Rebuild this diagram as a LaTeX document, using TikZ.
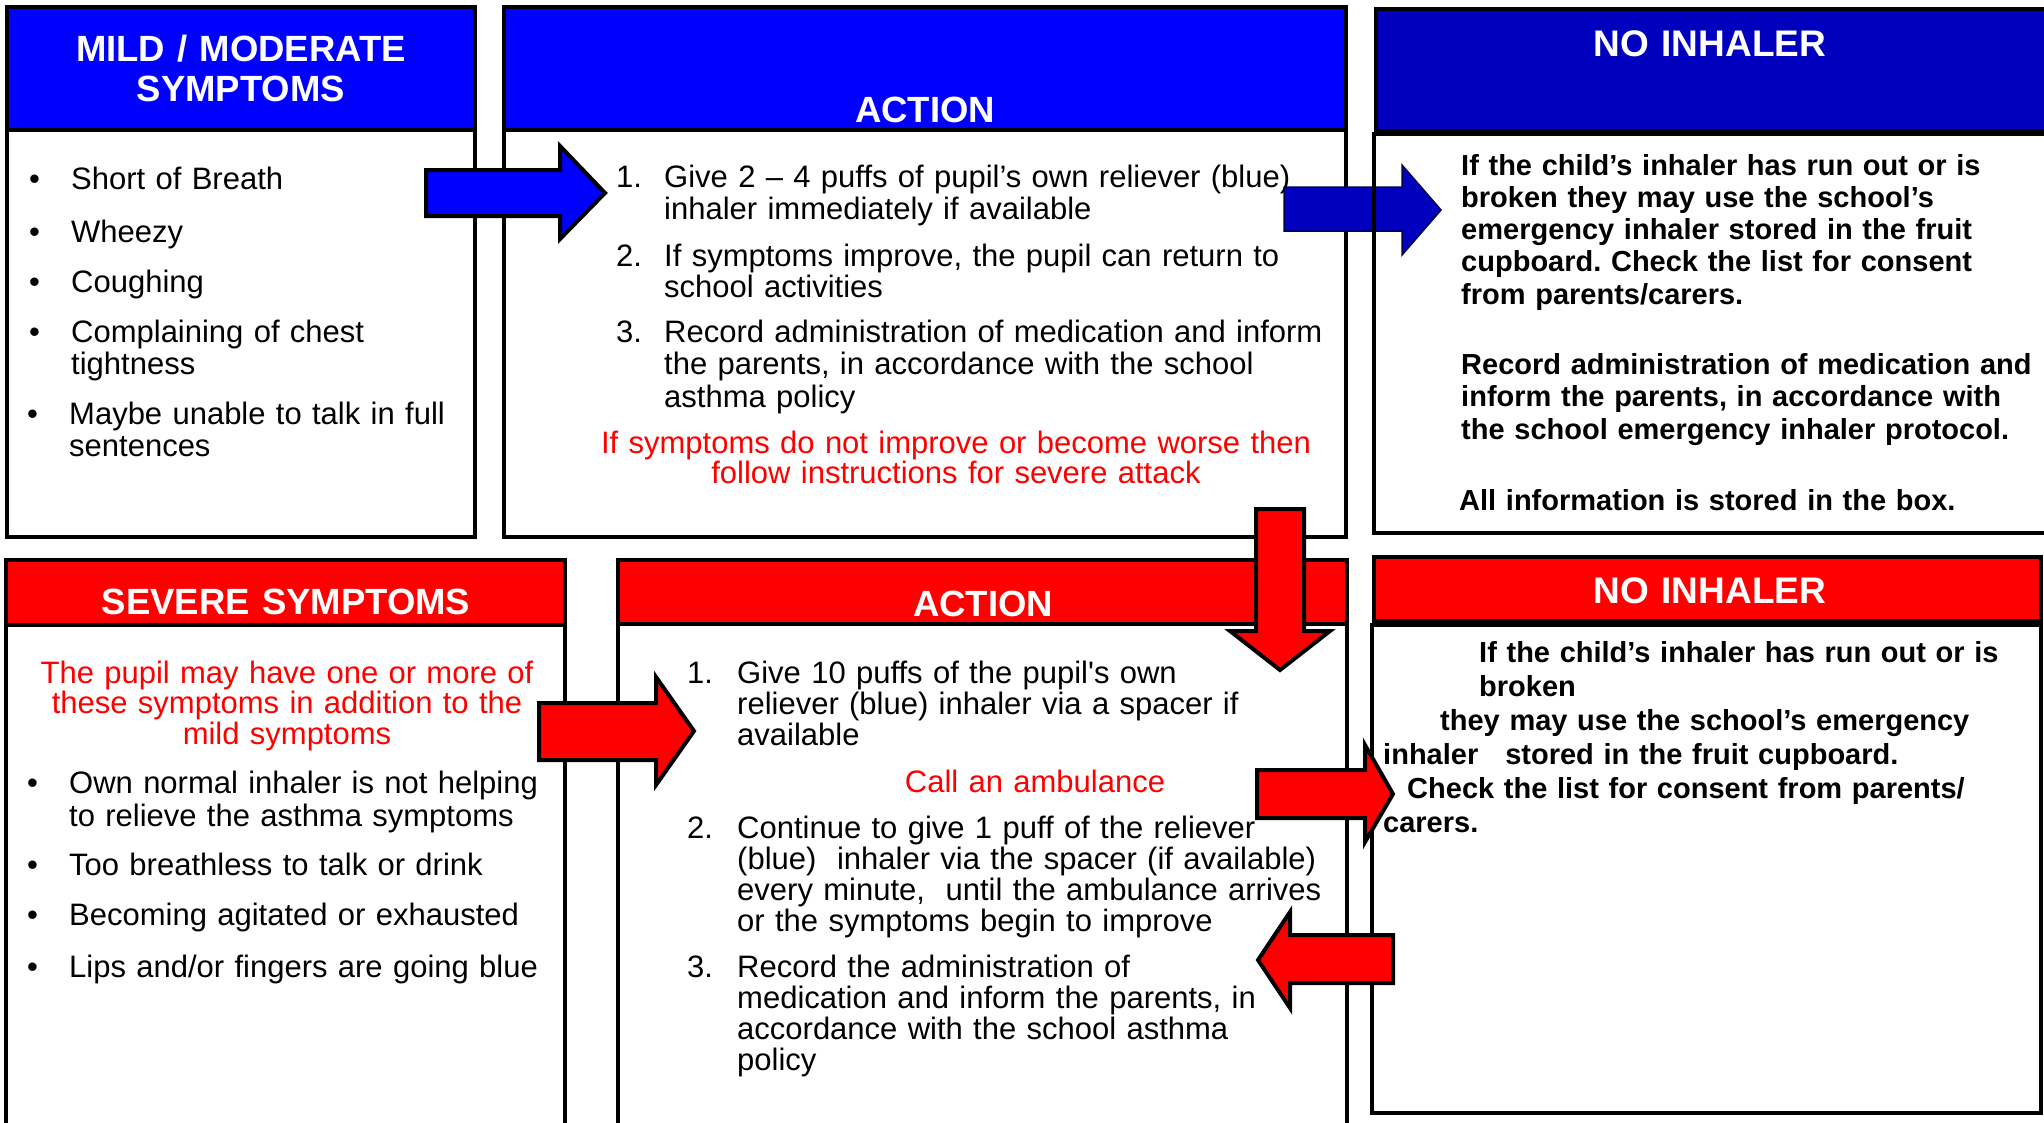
\documentclass[tikz,border=0pt]{standalone}
\usepackage{fontspec}
\setmainfont{Liberation Sans}
\frenchspacing
\definecolor{hblue}{RGB}{0,0,255}
\definecolor{nblue}{RGB}{0,0,190}
\definecolor{nbline}{RGB}{0,0,80}
\definecolor{hred}{RGB}{255,0,0}
\tikzset{
  box/.style={draw=black, line width=4.5pt, inner sep=0pt, outer sep=0pt, anchor=north west},
  tx/.style={inner sep=0pt, anchor=base west, text width=760pt, align=left, font=\fontsize{31}{31.5}\selectfont},
  txc/.style={inner sep=0pt, anchor=base, text width=900pt, align=center, font=\fontsize{31}{30.5}\selectfont},
  bt/.style={inner sep=0pt, anchor=base west, font=\fontsize{31}{31.5}\selectfont},
  hd/.style={inner sep=0pt, anchor=base, text width=700pt, align=center, text=white, font=\bfseries\fontsize{36.5}{40}\selectfont},
  nb/.style={inner sep=0pt, anchor=base west, text width=760pt, align=left, font=\bfseries\fontsize{29}{33.5}\selectfont},
  arrB/.style={fill=hblue, draw=black, line width=4pt, line join=miter},
  arrN/.style={fill=nblue, draw=nbline, line width=1.5pt, line join=miter},
  arrR/.style={fill=hred, draw=black, line width=4pt, line join=miter}
}
\begin{document}
\begin{tikzpicture}[x=1pt,y=-1pt]
\useasboundingbox (0,0) rectangle (2044,1122);
\clip (0,0) rectangle (2044,1122);
\fill[white] (0,0) rectangle (2044,1122);

% ---------- top row boxes ----------
\node[box, fill=hblue, minimum width=468pt, minimum height=123pt] (mildH) at (7,7) {};
\node[box, minimum width=468pt, minimum height=407pt] (mildB) at (7,130) {};
\node[box, fill=hblue, minimum width=842pt, minimum height=123pt] (act1H) at (504,7) {};
\node[box, minimum width=842pt, minimum height=407pt] (act1B) at (504,130) {};
\node[box, fill=nblue, minimum width=700pt, minimum height=122pt] (ni1H) at (1376,9) {};

% ---------- bottom row boxes ----------
\node[box, line width=3.5pt, fill=hred, minimum width=559pt, minimum height=65pt] (sevH) at (6,560) {};
\node[box, line width=3.5pt, minimum width=559pt, minimum height=530pt] (sevB) at (6,625) {};
\node[box, fill=hred, minimum width=729pt, minimum height=64pt] (act2H) at (618,560) {};
\node[box, minimum width=729pt, minimum height=530pt] (act2B) at (618,624) {};
\node[box, fill=hred, minimum width=667pt, minimum height=64pt] (ni2H) at (1374,557) {};
\node[box, minimum width=669pt, minimum height=488pt] (ni2B) at (1372,625) {};

% ---------- headers ----------
\node[hd] (mildT) at (241,61) {MILD / MODERATE\\SYMPTOMS};
\node[hd] (act1T) at (925,122) {ACTION};
\node[hd, font=\bfseries\fontsize{37}{40}\selectfont] (ni1T) at (1710,56) {NO INHALER};
\node[hd] (sevT) at (286,614) {SEVERE SYMPTOMS};
\node[hd] (act2T) at (983,616) {ACTION};
\node[hd, font=\bfseries\fontsize{37}{40}\selectfont] (ni2T) at (1710,603) {NO INHALER};

% ---------- mild list ----------
\node[bt] (mb1) at (29,189) {•};
\node[tx] (mi1) at (71,189) {Short of Breath};
\node[bt] (mb2) at (29,242) {•};
\node[tx] (mi2) at (71,242) {Wheezy};
\node[bt] (mb3) at (29,292) {•};
\node[tx] (mi3) at (71,292) {Coughing};
\node[bt] (mb4) at (29,342) {•};
\node[tx, font=\fontsize{31}{32}\selectfont] (mi4) at (71,342) {Complaining of chest\\tightness};
\node[bt] (mb5) at (27,424) {•};
\node[tx, font=\fontsize{31}{32}\selectfont] (mi5) at (69,424) {Maybe unable to talk in full\\sentences};

% ---------- action 1 ----------
\node[bt] (an1) at (616,187) {1.};
\node[tx, font=\fontsize{31}{32}\selectfont] (at1) at (664,187) {Give 2 – 4 puffs of pupil’s own reliever (blue)\\inhaler immediately if available};
\node[bt] (an2) at (616,266) {2.};
\node[tx, font=\fontsize{31}{31}\selectfont] (at2) at (664,266) {If symptoms improve, the pupil can return to\\school activities};
\node[bt] (an3) at (616,342) {3.};
\node[tx, font=\fontsize{31}{32.5}\selectfont] (at3) at (664,342) {Record administration of medication and inform\\the parents, in accordance with the school\\asthma policy};
\node[txc, text=hred] (ared) at (956,453) {If symptoms do not improve or become worse then\\follow instructions for severe attack};

% ---------- severe ----------
\node[txc, text=hred] (sred) at (287,683) {The pupil may have one or more of\\these symptoms in addition to the\\mild symptoms};
\node[bt] (sb1) at (27,793) {•};
\node[tx, font=\fontsize{31}{33}\selectfont] (si1) at (69,793) {Own normal inhaler is not helping\\to relieve the asthma symptoms};
\node[bt] (sb2) at (27,875) {•};
\node[tx] (si2) at (69,875) {Too breathless to talk or drink};
\node[bt] (sb3) at (27,925) {•};
\node[tx] (si3) at (69,925) {Becoming agitated or exhausted};
\node[bt] (sb4) at (27,977) {•};
\node[tx] (si4) at (69,977) {Lips and/or fingers are going blue};

% ---------- action 2 ----------
\node[bt] (bn1) at (687,683) {1.};
\node[tx, font=\fontsize{31}{31}\selectfont] (bt1) at (737,683) {Give 10 puffs of the pupil\textquotesingle s own\\reliever (blue) inhaler via a spacer if\\available};
\node[txc, text=hred] (bred) at (1035,792) {Call an ambulance};
\node[bt] (bn2) at (687,838) {2.};
\node[tx, font=\fontsize{31}{31.3}\selectfont] (bt2) at (737,838) {Continue to give 1 puff of the reliever\\(blue)\ \ inhaler via the spacer (if available)\\every minute,\ \ until the ambulance arrives\\or the symptoms begin to improve};
\node[bt] (bn3) at (687,977) {3.};
\node[tx, font=\fontsize{31}{31.3}\selectfont] (bt3) at (737,977) {Record the administration of\\medication and inform the parents, in\\accordance with the school asthma\\policy};

% ---------- no inhaler bottom text ----------
\node[nb, font=\bfseries\fontsize{29}{34}\selectfont] (n2t) at (1383,662) {\hspace*{96pt}If the child’s inhaler has run out or is\\
\hspace*{96pt}broken\\
\hspace*{57pt}they may use the school’s emergency\\
inhaler\hspace*{27pt}stored in the fruit cupboard.\\
\hspace*{24pt}Check the list for consent from parents/\\
carers.};

% ---------- arrows ----------
\draw[arrB] (426,170) -- (560,170) -- (560,146) -- (605,193) -- (560,239) -- (560,216) -- (426,216) -- cycle;
\draw[arrN] (1284,187) -- (1402,187) -- (1402,165) -- (1441,210) -- (1402,255) -- (1402,231) -- (1284,231) -- cycle;
\draw[arrR] (1256,509) -- (1304,509) -- (1304,631) -- (1330,631) -- (1280,670) -- (1230,631) -- (1256,631) -- cycle;
\draw[arrR] (539,703) -- (656,703) -- (656,677) -- (694,731) -- (656,785) -- (656,760) -- (539,760) -- cycle;
\draw[arrR] (1257,770) -- (1365,770) -- (1365,745) -- (1393,794) -- (1365,842) -- (1365,818) -- (1257,818) -- cycle;
\draw[arrR] (1393,935) -- (1290,935) -- (1290,912) -- (1258,960) -- (1290,1008) -- (1290,983) -- (1393,983) -- cycle;

% ---------- no inhaler top body (drawn over the blue arrow) ----------
\node[box, minimum width=700pt, minimum height=399pt] (ni1B) at (1374,134) {};
\node[nb, font=\bfseries\fontsize{29}{32.3}\selectfont] (n1a) at (1461,175) {If the child’s inhaler has run out or is\\broken they may use the school’s\\emergency inhaler stored in the fruit\\cupboard. Check the list for consent\\from parents/carers.};
\node[nb, font=\bfseries\fontsize{29}{32.5}\selectfont] (n1b) at (1461,374) {Record administration of medication and\\inform the parents, in accordance with\\the school emergency inhaler protocol.};
\node[nb] (n1c) at (1459,510) {All information is stored in the box.};
\end{tikzpicture}
\end{document}
